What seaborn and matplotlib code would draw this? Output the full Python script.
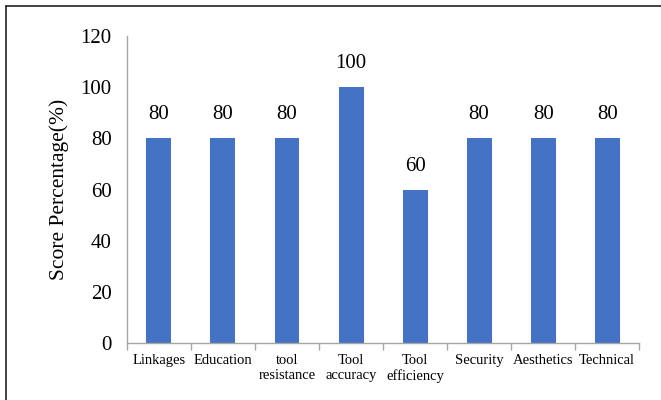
import matplotlib
matplotlib.use("Agg")
import matplotlib.pyplot as plt
from matplotlib.lines import Line2D
from matplotlib.ticker import FixedLocator
import seaborn as sns
import pandas as pd

categories = ["Linkages", "Education", "tool\nresistance", "Tool\naccuracy",
              "Tool\nefficiency", "Security", "Aesthetics", "Technical"]
scores = [80, 80, 80, 100, 60, 80, 80, 80]
y_ticks = [0, 20, 40, 60, 80, 100, 120]

sns.set_theme(style="white")
plt.rcParams["font.family"] = ["Liberation Serif", "DejaVu Serif"]

df = pd.DataFrame({"category": categories, "score": scores})

fig = plt.figure(figsize=(6.61, 4.0), dpi=100)
ax = fig.add_axes([0.192, 0.1425, 0.775, 0.7675])

sns.barplot(data=df, x="category", y="score", color="#4472C4",
            saturation=1, width=0.39, linewidth=0, ax=ax)

axis_gray = "#A6A6A6"
ax.set_xlim(-0.5, len(categories) - 0.5)
ax.set_ylim(0, 120)
ax.yaxis.set_major_locator(FixedLocator(y_ticks))

for side in ["top", "right"]:
    ax.spines[side].set_visible(False)
for side in ["left", "bottom"]:
    ax.spines[side].set_color(axis_gray)
    ax.spines[side].set_linewidth(1.0)

# category separators on the x axis, value ticks on the y axis
ax.xaxis.set_minor_locator(FixedLocator([i - 0.5 for i in range(len(categories) + 1)]))
ax.tick_params(axis="x", which="major", length=0, pad=8, labelsize=10.5, colors="black")
ax.tick_params(axis="x", which="minor", length=5, width=1, color=axis_gray, direction="out")
ax.tick_params(axis="y", which="major", length=5, width=1, color=axis_gray,
               direction="out", labelsize=15, labelcolor="black", pad=6)
ax.xaxis.set_tick_params(which="minor", bottom=True)
for lbl in ax.get_xticklabels():
    lbl.set_linespacing(1.15)

ax.set_xlabel("")
ax.set_ylabel("Score Percentage(%)", fontsize=15.5, color="black", labelpad=8)

for container in ax.containers:
    ax.bar_label(container, labels=[f"{v:g}" for v in scores],
                 padding=10, fontsize=15, color="black")

# thin frame along the top and left edges
frame = dict(color="#222222", linewidth=1.2, transform=fig.transFigure)
fig.add_artist(Line2D([0.0095, 1.0], [0.985, 0.985], **frame))
fig.add_artist(Line2D([0.0095, 0.0095], [0.0, 0.985], **frame))

fig.savefig("out.png", dpi=100)
